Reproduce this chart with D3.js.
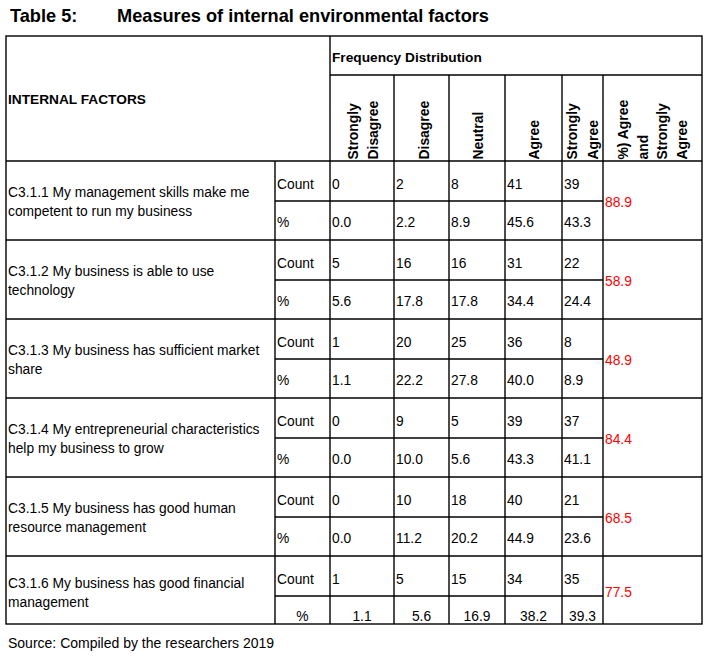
<!DOCTYPE html>
<html>
<head>
<meta charset="utf-8">
<script src="https://cdn.jsdelivr.net/npm/d3@7"></script>
<style>
  html, body { margin: 0; padding: 0; background: #fff; }
  svg { display: block; font-family: "Liberation Sans", Arial, sans-serif; }
</style>
</head>
<body>
<svg id="chart" width="726" height="660"></svg>
<script>
// ---- data ----
const factorIds = ["C3.1.1", "C3.1.2", "C3.1.3", "C3.1.4", "C3.1.5", "C3.1.6"];
const factorLabels = [
  ["C3.1.1 My management skills make me", "competent to run my business"],
  ["C3.1.2 My business is able to use", "technology"],
  ["C3.1.3 My business has sufficient market", "share"],
  ["C3.1.4 My entrepreneurial characteristics", "help my business to grow"],
  ["C3.1.5 My business has good human", "resource management"],
  ["C3.1.6 My business has good financial", "management"]
];
const responseCategories = ["Strongly Disagree", "Disagree", "Neutral", "Agree", "Strongly Agree"];
const counts = [
  [0, 2, 8, 41, 39],
  [5, 16, 16, 31, 22],
  [1, 20, 25, 36, 8],
  [0, 9, 5, 39, 37],
  [0, 10, 18, 40, 21],
  [1, 5, 15, 34, 35]
];
const percents = [
  [0.0, 2.2, 8.9, 45.6, 43.3],
  [5.6, 17.8, 17.8, 34.4, 24.4],
  [1.1, 22.2, 27.8, 40.0, 8.9],
  [0.0, 10.0, 5.6, 43.3, 41.1],
  [0.0, 11.2, 20.2, 44.9, 23.6],
  [1.1, 5.6, 16.9, 38.2, 39.3]
];
const agreeTotals = [88.9, 58.9, 48.9, 84.4, 68.5, 77.5];
const headerLines = [
  ["Strongly", "Disagree"],
  ["Disagree"],
  ["Neutral"],
  ["Agree"],
  ["Strongly", "Agree"],
  ["%) Agree", "and", "Strongly", "Agree"]
];
const titleNumber = "Table 5:";
const titleText = "Measures of internal environmental factors";
const sourceText = "Source: Compiled by the researchers 2019";

// ---- layout ----
const svg = d3.select("#chart");
const fmt = d3.format(".1f");
const stroke = "#000";
const sw = 1.4;

const tableLeft = 6, tableRight = 702, tableTop = 36;
const labelColRight = 275, typeColRight = 330;
const colEdges = [330, 394, 449, 505, 562, 603, 702];
const colKeys = responseCategories.concat(["AgreeTotal"]);
const colLeft = d3.scaleOrdinal().domain(colKeys).range(colEdges.slice(0, 6));
const colRight = d3.scaleOrdinal().domain(colKeys).range(colEdges.slice(1));

const freqLineY = 75, headerBottom = 161;
const rowHeights = [79, 79, 79, 79, 79, 68];
const rowTops = rowHeights.map((h, i) => headerBottom + d3.sum(rowHeights.slice(0, i)));
const rowTop = d3.scaleOrdinal().domain(factorIds).range(rowTops);
const tableBottom = rowTops[5] + rowHeights[5];
const subOffset = 40;

// ---- title ----
svg.append("text").attr("x", 10).attr("y", 22)
  .attr("font-size", 18.2).attr("font-weight", "bold").text(titleNumber);
svg.append("text").attr("x", 117).attr("y", 22)
  .attr("font-size", 18.2).attr("font-weight", "bold").text(titleText);

// ---- grid lines ----
const g = svg.append("g").attr("stroke", stroke).attr("stroke-width", sw).attr("fill", "none");
const line = (x1, y1, x2, y2) => g.append("line").attr("x1", x1).attr("y1", y1).attr("x2", x2).attr("y2", y2);
g.append("rect").attr("x", tableLeft).attr("y", tableTop)
  .attr("width", tableRight - tableLeft).attr("height", tableBottom - tableTop);
line(typeColRight, freqLineY, tableRight, freqLineY);
factorIds.forEach(id => {
  line(tableLeft, rowTop(id), tableRight, rowTop(id));
  line(labelColRight, rowTop(id) + subOffset, colLeft("AgreeTotal"), rowTop(id) + subOffset);
});
line(typeColRight, tableTop, typeColRight, tableBottom);
line(labelColRight, headerBottom, labelColRight, tableBottom);
colKeys.slice(1).forEach(k => line(colLeft(k), freqLineY, colLeft(k), tableBottom));

// ---- header texts ----
svg.append("text").attr("x", 8).attr("y", 104)
  .attr("font-size", 13.7).attr("font-weight", "bold").text("INTERNAL FACTORS");
svg.append("text").attr("x", 332).attr("y", 62)
  .attr("font-size", 13.7).attr("font-weight", "bold").text("Frequency Distribution");

const headerBaselines = [[357.5, 378], [428.5], [482.5], [539], [577, 598], [628, 647.5, 667, 687]];
const hdr = svg.append("g");
colKeys.forEach((k, ci) => {
  headerLines[ci].forEach((t, li) => {
    const bx = headerBaselines[ci][li];
    hdr.append("text")
      .attr("transform", `translate(${bx},159.5) rotate(-90)`)
      .attr("font-size", 13.9).attr("font-weight", "bold")
      .text(t);
  });
});

// ---- body ----
const body = svg.append("g").attr("font-size", 13.8).attr("fill", "#000");
factorIds.forEach((id, ri) => {
  const top = rowTop(id);
  const last = ri === factorIds.length - 1;
  const lblY = last ? top + 32 : top + 36;
  factorLabels[ri].forEach((t, li) => {
    body.append("text").attr("x", 8).attr("y", lblY + li * 18.8).text(t);
  });
  body.append("text").attr("x", 277).attr("y", top + 27.5).text("Count");
  responseCategories.forEach((k, ci) => {
    body.append("text").attr("x", colLeft(k) + 2).attr("y", top + 27.5).text(counts[ri][ci]);
  });
  if (!last) {
    body.append("text").attr("x", 277).attr("y", top + 66).text("%");
    responseCategories.forEach((k, ci) => {
      body.append("text").attr("x", colLeft(k) + 2).attr("y", top + 66).text(fmt(percents[ri][ci]));
    });
  } else {
    body.append("text").attr("x", (labelColRight + typeColRight) / 2).attr("y", top + 65)
      .attr("text-anchor", "middle").text("%");
    responseCategories.forEach((k, ci) => {
      body.append("text").attr("x", (colLeft(k) + colRight(k)) / 2).attr("y", top + 65)
        .attr("text-anchor", "middle").text(fmt(percents[ri][ci]));
    });
  }
  body.append("text").attr("x", colLeft("AgreeTotal") + 2)
    .attr("y", last ? top + 41 : top + 46)
    .attr("fill", "#ff0000").text(fmt(agreeTotals[ri]));
});

// ---- source ----
svg.append("text").attr("x", 8).attr("y", 648).attr("font-size", 14).text(sourceText);
</script>
</body>
</html>
